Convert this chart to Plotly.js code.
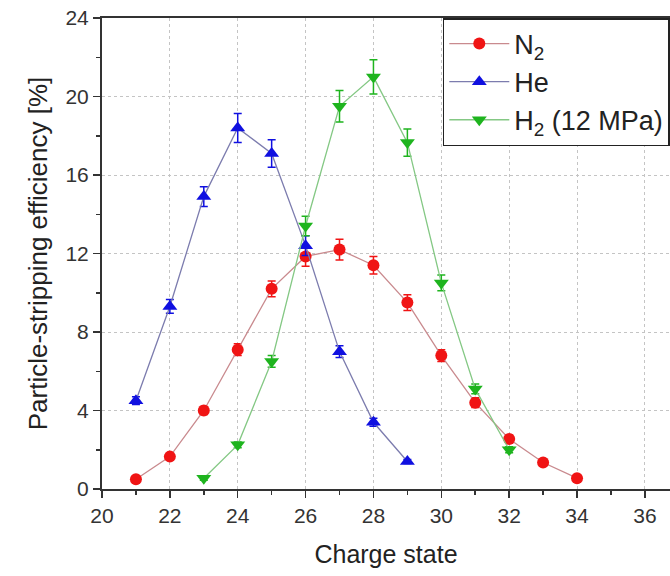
<!DOCTYPE html>
<html>
<head>
<meta charset="utf-8">
<script src="https://cdn.plot.ly/plotly-3.0.1.min.js"></script>
<style>html,body{margin:0;padding:0;background:#fff;}#chart{width:670px;height:576px;}</style>
</head>
<body>
<div id="chart"></div>
<script>
// Charge states
const xN2 = [21, 22, 23, 24, 25, 26, 27, 28, 29, 30, 31, 32, 33, 34];
const yN2 = [0.5, 1.65, 4.0, 7.1, 10.2, 11.85, 12.2, 11.4, 9.5, 6.8, 4.4, 2.55, 1.35, 0.55];
const eN2 = [0.1, 0.15, 0.2, 0.3, 0.4, 0.5, 0.53, 0.45, 0.4, 0.3, 0.25, 0.2, 0.1, 0.1];

const xHe = [21, 22, 23, 24, 25, 26, 27, 28, 29];
const yHe = [4.5, 9.3, 14.9, 18.4, 17.1, 12.4, 7.0, 3.4, 1.4];
const eHe = [0.2, 0.35, 0.5, 0.74, 0.7, 0.5, 0.3, 0.2, 0.1];

const xH2 = [23, 24, 25, 26, 27, 28, 29, 30, 31, 32];
const yH2 = [0.55, 2.25, 6.5, 13.4, 19.5, 21.0, 17.65, 10.5, 5.1, 2.0];
const eH2 = [0.1, 0.15, 0.3, 0.5, 0.8, 0.87, 0.7, 0.4, 0.25, 0.15];

const names = ['N<sub>2</sub>', 'He', 'H<sub>2</sub> (12 MPa)'];
const xTicks = [20, 22, 24, 26, 28, 30, 32, 34, 36];
const yTicks = [0, 4, 8, 12, 16, 20, 24];

function series(x, y, e, name, mcol, lcol, sym, size) {
  return {
    x: x, y: y, name: name, type: 'scatter', mode: 'lines+markers',
    line: {color: lcol, width: 1.3},
    marker: {color: mcol, symbol: sym, size: size},
    error_y: {type: 'data', array: e, visible: true, color: mcol, thickness: 1.5, width: 4}
  };
}

const data = [
  series(xN2, yN2, eN2, names[0], '#f01414', '#c98a8e', 'circle', 12),
  series(xHe, yHe, eHe, names[1], '#1010e0', '#7c7cae', 'triangle-up', 13),
  series(xH2, yH2, eH2, names[2], '#1eb41e', '#84c884', 'triangle-down', 13)
];

const FAM = 'Liberation Sans, Arial, sans-serif';
const axisFont = {family: FAM, size: 21, color: '#333'};

const layout = {
  width: 670, height: 576,
  margin: {l: 102, r: 0, t: 18, b: 87, autoexpand: false},
  paper_bgcolor: '#fff', plot_bgcolor: '#fff',
  showlegend: true,
  font: {family: FAM, color: '#222'},
  xaxis: {
    range: [20, 36.74], tickvals: xTicks, ticktext: xTicks.map(String),
    ticks: 'outside', ticklen: 7, tickwidth: 1.5, tickcolor: '#333',
    minor: {ticks: 'outside', dtick: 1, ticklen: 4, tickwidth: 1.5, tickcolor: '#333', showgrid: false},
    showline: true, linecolor: '#333', linewidth: 2, mirror: true,
    showgrid: true, gridcolor: '#c4c4c4', griddash: 'dot', gridwidth: 1,
    zeroline: false, tickfont: axisFont, automargin: false,
    title: {text: 'Charge state', font: {family: FAM, size: 25, color: '#222'}, standoff: 19}
  },
  yaxis: {
    range: [0, 24], tickvals: yTicks, ticktext: yTicks.map(String),
    ticks: 'outside', ticklen: 7, tickwidth: 1.5, tickcolor: '#333',
    minor: {ticks: 'outside', dtick: 2, ticklen: 4, tickwidth: 1.5, tickcolor: '#333', showgrid: false},
    showline: true, linecolor: '#333', linewidth: 2, mirror: false,
    showgrid: true, gridcolor: '#c4c4c4', griddash: 'dot', gridwidth: 1,
    zeroline: false, tickfont: axisFont, automargin: false,
    title: {text: 'Particle-stripping efficiency [%]', font: {family: FAM, size: 26, color: '#222'}, standoff: 10}
  },
  legend: {
    x: 0.6, y: 1, xanchor: 'left', yanchor: 'top',
    bgcolor: '#fff', bordercolor: '#222', borderwidth: 1.5,
    font: {family: FAM, size: 27, color: '#222'},
    tracegroupgap: 0, itemwidth: 60
  }
};

Plotly.newPlot('chart', data, layout, {staticPlot: true, displayModeBar: false});
</script>
</body>
</html>
